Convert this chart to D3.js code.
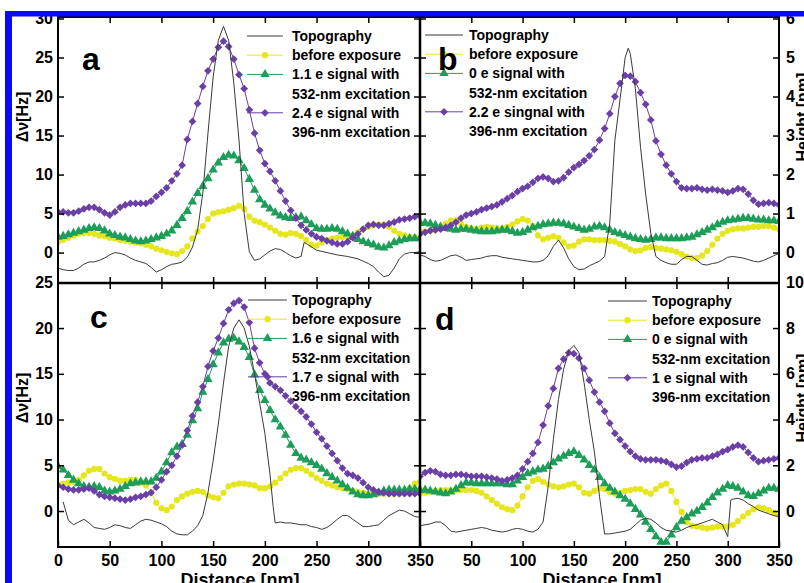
<!DOCTYPE html>
<html>
<head>
<meta charset="utf-8">
<script src="https://cdn.jsdelivr.net/npm/d3@7"></script>
<style>
  body { margin: 0; background: #fff; }
  svg { display: block; font-family: "Liberation Sans", Arial, sans-serif; font-weight: bold; }
</style>
</head>
<body>
<svg width="804" height="583"></svg>
<script>
// distance samples for the marker series (nm)
const dist = d3.range(0, 351, 5);

// ---- panel a : delta nu [Hz] ----
const yellowA = [1.4,1.6,1.9,2.2,2.4,2.5,2.5,2.4,2.2,2.1, 1.9,1.8,1.6,1.5,1.4,1.3,1.2,1.0,0.8,0.5,
  0.3,0.1,-0.1,-0.2,0.2,0.8,1.8,2.7,3.4,4.3, 5.0,5.2,5.3,5.5,5.7,6.0,5.6,4.6,4.1,3.9,
  3.6,3.2,2.8,2.4,2.3,2.5,2.4,2.1,1.6,1.0, 0.9,1.3,1.6,1.8,1.9,2.0,2.0,2.2,2.6,3.0,
  3.3,3.5,3.6,3.6,3.3,2.8,2.4,2.2,2.0,2.0, 1.9];
const greenA = [2.0,2.1,2.3,2.5,2.7,2.9,3.1,3.2,3.1,2.8, 2.4,2.2,2.0,1.9,1.7,1.5,1.4,1.5,1.7,1.9,
  2.1,2.4,2.8,3.5,4.4,5.3,6.5,7.6,8.5,9.5, 10.6,11.5,12.2,12.5,12.4,11.8,10.8,9.4,8.0,6.8,
  6.1,5.6,5.1,4.7,4.5,4.4,4.5,4.6,4.1,3.6, 3.1,3.0,3.0,3.1,3.0,2.7,2.4,2.1,1.7,1.4,
  1.2,1.0,0.7,0.6,0.9,1.3,1.5,1.7,1.8,1.8, 1.8];
const purpleA = [5.2,5.2,5.1,5.1,5.3,5.6,5.8,5.8,5.5,5.1, 4.8,5.2,5.8,6.1,6.3,6.3,6.3,6.3,6.6,7.2,
  7.7,8.3,9.2,10.1,11.2,14.5,16.8,19.1,21.3,23.3, 24.8,26.3,27.1,26.4,24.8,22.8,21.0,18.3,15.3,13.1,
  11.4,10.4,9.2,7.9,6.6,5.4,4.4,3.5,2.9,2.4, 2.0,1.8,1.5,1.3,1.1,1.1,1.4,1.9,2.4,3.0,
  3.5,3.6,3.5,3.5,3.7,3.9,4.2,4.3,4.4,4.6, 4.7];
// topography height [nm]
const topoA_x = [0,5,10,15,20,25,30,35,40,45,50,55,60,65,70,75,80,85,90,95,100,105,110,115,120,125,130,135,140,145,
  150,155,160,165,170,175,180,185,190,195,200,205,210,215,220,225,230,235,238,242,250,260,270,280,290,300,305,310,315,320,
  325,330,335,340,345,350];
const topoA_h = [-0.40,-0.44,-0.46,-0.46,-0.40,-0.30,-0.24,-0.24,-0.20,-0.14,-0.06,0.00,-0.02,-0.06,-0.14,-0.20,-0.24,-0.28,-0.38,-0.50,
  -0.44,-0.36,-0.30,-0.28,-0.24,-0.12,0.14,0.58,1.52,3.06,4.50,5.44,5.80,5.44,4.34,2.88,1.00,0.02,-0.20,-0.16,
  -0.06,0.04,0.10,0.08,0.00,-0.08,-0.14,-0.10,0.26,0.20,0.06,0.00,-0.06,-0.10,-0.16,-0.28,-0.36,-0.50,-0.62,-0.58,
  -0.40,-0.16,-0.04,0.00,0.00,0.02];

// ---- panel b ----
const yellowB = [2.7,2.7,2.8,2.9,3.3,3.7,4.1,4.1,3.7,3.3, 3.1,3.0,3.2,3.3,3.2,3.1,3.1,3.3,3.6,4.0,
  4.3,4.1,3.4,2.2,1.7,1.9,2.1,1.9,1.3,0.8, 0.9,1.4,1.7,1.7,1.6,1.6,1.6,1.5,1.4,1.1,
  0.8,0.4,0.2,0.3,0.6,0.7,0.6,0.5,0.4,0.3, 0.1,-0.2,-0.5,-0.7,-0.7,-0.4,0.2,1.0,1.8,2.4,
  2.8,3.0,3.1,3.1,3.2,3.3,3.3,3.4,3.4,3.2, 3.0];
const greenB = [3.8,3.8,3.7,3.5,3.3,3.1,3.0,2.9,3.0,3.0, 2.9,2.8,2.7,2.7,2.7,2.8,2.9,2.9,2.7,2.5,
  2.6,2.9,3.2,3.4,3.6,3.7,3.8,3.8,3.7,3.5, 3.3,3.1,2.9,3.0,3.3,3.4,3.2,2.9,2.6,2.4,
  2.2,2.0,1.8,1.7,1.6,1.7,1.9,1.9,1.8,1.8, 1.8,1.8,1.9,2.0,2.3,2.6,2.9,3.2,3.6,3.9,
  4.1,4.2,4.3,4.4,4.4,4.3,4.2,4.2,4.1,4.1, 4.0];
const purpleB = [2.4,2.6,2.8,2.9,3.0,3.2,3.5,3.9,4.4,4.8, 5.0,5.2,5.5,5.7,5.9,6.1,6.5,6.9,7.3,7.8,
  8.2,8.5,9.0,9.5,9.7,9.5,9.1,9.2,9.6,10.3, 10.9,11.3,11.8,12.4,13.2,14.4,15.9,17.8,20.0,21.7,
  22.7,22.6,21.9,20.5,19.0,17.0,14.3,12.6,11.2,10.1, 9.1,8.3,8.2,8.2,8.3,8.1,8.0,8.1,8.0,7.9,
  7.7,7.9,8.2,8.1,7.5,6.7,6.2,6.3,6.4,6.3, 6.1];
const topoB_x = [0,5,10,15,20,25,30,35,40,45,50,55,60,65,70,75,80,85,90,95,100,105,110,115,120,125,130,135,140,145,
  150,155,160,165,170,175,180,185,190,195,200,203,205,210,215,220,225,230,235,240,245,250,255,260,265,270,275,280,285,290,
  295,300,305,310,315,320,325,330,335,340,345,350];
const topoB_h = [-0.06,-0.10,-0.18,-0.22,-0.20,-0.14,-0.08,-0.06,-0.12,-0.20,-0.18,-0.16,-0.14,-0.10,-0.08,-0.08,-0.12,-0.14,-0.16,-0.18,
  -0.20,-0.22,-0.24,-0.24,-0.20,-0.08,0.16,0.32,0.12,-0.16,-0.36,-0.44,-0.42,-0.34,-0.28,-0.22,-0.10,0.76,2.88,3.92,
  5.00,5.24,5.10,4.20,2.70,1.50,0.50,-0.10,-0.20,-0.26,-0.30,-0.30,-0.18,-0.10,-0.10,-0.20,-0.30,-0.32,-0.28,-0.26,
  -0.20,-0.12,-0.10,-0.12,-0.14,-0.18,-0.22,-0.24,-0.20,-0.14,-0.08,-0.02];

// ---- panel c ----
const yellowC = [2.9,3.0,3.1,3.2,3.4,3.9,4.4,4.6,4.6,4.1, 3.7,3.5,3.3,3.3,3.4,3.4,3.1,2.8,2.0,0.9,
  0.3,0.1,0.5,1.2,1.6,1.9,2.1,2.2,2.1,1.7, 1.5,1.4,2.0,2.7,2.9,3.0,3.0,2.9,2.8,2.5,
  2.5,2.7,3.1,3.6,4.1,4.5,4.7,4.7,4.4,4.0, 3.6,3.3,3.0,2.8,2.6,2.5,2.4,2.2,2.1,2.0,
  1.9,1.9,1.9,1.9,1.9,1.9,1.9,2.1,2.5,3.0, 3.2];
const greenC = [4.9,4.5,3.9,3.4,3.0,2.7,2.6,2.7,2.6,2.2, 2.1,2.2,2.4,2.7,3.0,3.1,3.2,3.2,3.2,3.6,
  4.3,5.3,6.4,7.0,7.3,8.3,9.9,11.2,13.0,14.4, 16.0,17.3,18.4,18.8,18.9,18.5,17.9,16.8,14.9,13.2,
  12.1,11.0,10.0,9.2,8.3,7.2,6.3,5.8,5.6,5.3, 5.0,4.6,4.1,3.7,3.3,2.9,2.5,2.1,1.8,1.7,
  1.7,1.8,2.0,2.2,2.3,2.3,2.3,2.3,2.4,2.4, 2.4];
const purpleC = [2.8,2.6,2.4,2.3,2.3,2.4,2.5,2.2,1.8,1.6, 1.5,1.4,1.3,1.2,1.3,1.5,1.6,1.8,2.0,2.6,
  3.4,4.3,5.0,6.0,7.2,8.8,10.4,11.9,13.6,15.8, 17.5,18.9,20.5,22.0,22.7,23.0,22.3,20.6,17.8,16.2,
  15.0,14.0,13.6,13.2,12.6,12.0,11.4,10.9,10.3,9.5, 8.6,7.9,7.1,6.3,5.5,4.7,4.1,3.9,3.6,3.1,
  2.6,2.3,2.1,2.0,1.9,1.9,1.9,1.9,1.9,1.9, 1.9];
const topoC_x = [5,10,15,20,25,30,35,40,45,50,55,60,65,70,75,80,85,90,95,100,105,110,115,120,125,130,135,140,145,150,
  155,160,165,170,175,180,185,190,195,200,205,208,210,215,220,225,230,235,240,245,250,255,260,265,270,275,280,285,290,295,
  300,305,310,315,320,325,330,335,340,345,350];
const topoC_h = [0.40,-0.40,-0.60,-0.48,-0.36,-0.52,-0.72,-0.76,-0.80,-0.72,-0.60,-0.64,-0.72,-0.76,-0.60,-0.44,-0.36,-0.40,-0.48,-0.56,
  -0.68,-0.88,-1.00,-1.04,-1.04,-0.88,-0.64,-0.20,0.80,2.20,3.80,5.60,7.20,8.00,8.36,8.00,7.20,6.00,4.72,3.40,
  1.60,0.20,-0.52,-0.48,-0.52,-0.52,-0.56,-0.60,-0.60,-0.68,-0.72,-0.80,-0.72,-0.56,-0.36,-0.20,-0.20,-0.36,-0.52,-0.68,
  -0.68,-0.64,-0.60,-0.40,-0.20,-0.08,0.04,0.00,-0.12,-0.24,-0.28];

// ---- panel d ----
const yellowD = [1.9,2.0,2.1,2.2,2.3,2.3,2.3,2.3,2.3,2.3, 2.3,2.2,2.0,1.6,1.2,0.8,0.4,0.2,0.1,0.6,
  1.6,2.6,3.3,3.5,3.2,2.9,2.7,2.6,2.7,2.9, 3.0,2.6,2.0,1.9,2.2,2.5,2.4,2.1,1.9,2.0,
  2.2,2.3,2.4,2.4,2.1,1.9,2.4,2.8,3.0,2.2, 1.0,-0.1,-1.2,-1.6,-1.7,-1.8,-1.9,-1.8,-1.7,-1.7,
  -1.7,-1.5,-1.1,-0.6,-0.2,0.2,0.4,0.3,0.1,-0.2, -0.4];
const greenD = [2.3,2.3,2.2,2.1,2.0,1.9,2.1,2.4,2.8,3.1, 3.1,3.0,3.0,3.0,3.0,3.0,3.0,2.9,2.9,3.3,
  3.7,4.1,4.3,4.5,4.6,4.9,5.3,5.7,6.0,6.3, 6.5,6.1,5.6,5.0,4.5,3.7,3.0,2.5,2.1,1.7,
  1.3,0.8,0.2,-0.4,-1.2,-2.0,-2.8,-3.4,-3.4,-2.6, -1.8,-1.1,-0.7,-0.3,0.0,0.4,0.9,1.5,2.0,2.4,
  2.8,2.7,2.5,2.1,1.7,1.6,1.9,2.2,2.5,2.5, 2.4];
const purpleD = [3.8,4.2,4.4,4.3,4.0,3.9,3.9,4.0,4.0,3.9, 3.8,3.8,3.8,3.7,3.6,3.5,3.3,3.4,3.6,3.9,
  4.6,5.4,6.3,7.5,9.4,11.5,13.4,15.6,16.6,17.3, 17.2,16.7,15.6,14.3,13.0,11.9,10.9,9.6,8.5,7.8,
  7.1,6.5,6.0,5.7,5.6,5.6,5.6,5.5,5.4,5.1, 4.8,4.9,5.3,5.6,5.7,5.8,5.8,6.0,6.2,6.5,
  6.7,7.0,7.2,7.0,6.4,5.8,5.4,5.5,5.6,5.7, 5.8];
const topoD_x = [0,5,10,15,20,25,30,35,40,45,50,55,60,65,70,75,80,85,90,95,100,105,110,115,120,125,130,135,140,145,
  150,155,160,165,170,175,180,185,190,195,200,205,210,215,220,225,230,235,240,245,250,255,260,265,270,275,280,285,290,295,
  300,303,305,310,315,320,325,330,335,340,345,350];
const topoD_h = [-0.64,-0.60,-0.56,-0.48,-0.48,-0.64,-0.88,-0.92,-0.88,-0.84,-0.80,-0.76,-0.72,-0.76,-0.84,-0.88,-0.92,-0.88,-0.80,-0.76,
  -0.80,-0.88,-0.92,-0.80,-0.48,1.08,3.12,4.88,6.20,7.00,7.24,6.92,5.60,4.00,2.60,0.64,-1.00,-1.00,-0.96,-0.92,
  -0.88,-0.80,-0.60,-0.40,-0.32,-0.36,-0.52,-0.72,-0.84,-0.88,-0.92,-0.84,-0.72,-0.64,-0.60,-0.52,-0.44,-0.36,-0.48,-0.60,
  -1.12,0.48,0.52,0.56,0.48,0.32,0.20,0.04,-0.04,-0.12,-0.20,-0.24];

// legend texts
const legendA = ["Topography", "before exposure", "1.1 e signal with", "532-nm excitation", "2.4 e signal with", "396-nm excitation"];
const legendB = ["Topography", "before exposure", "0 e signal with", "532-nm excitation", "2.2 e singnal with", "396-nm excitation"];
const legendC = ["Topography", "before exposure", "1.6 e signal with", "532-nm excitation", "1.7 e signal with", "396-nm excitation"];
const legendD = ["Topography", "before exposure", "0 e signal with", "532-nm excitation", "1 e signal with", "396-nm excitation"];

// axis ticks
const distTicks = [0, 50, 100, 150, 200, 250, 300, 350];
const dvTicksTop = [0, 5, 10, 15, 20, 25, 30];
const dvTicksBottom = [0, 5, 10, 15, 20, 25];
const hTicksTop = [0, 1, 2, 3, 4, 5, 6];
const hTicksBottom = [0, 2, 4, 6, 8, 10];

const colors = { topo: "#3a3a3a", yellow: "#e6e61e", green: "#1c9e58", purple: "#6a3fa6" };

const svg = d3.select("svg");

const xL = 58, xM = 420, xR = 779;
const rows = [
  { top: 18.5, bottom: 283, frameTop: 17, dv: [-3.9, 30], h: [-0.78, 6], dvTicks: dvTicksTop, hTicks: hTicksTop },
  { top: 282.3, bottom: 547, frameTop: 283, dv: [-3.93, 25], h: [-1.572, 10], dvTicks: dvTicksBottom, hTicks: hTicksBottom }
];

const panels = [
  { letter: "a", lx: 82, ly: 70, col: 0, row: 0, tx: topoA_x, th: topoA_h, ye: yellowA, gr: greenA, pu: purpleA,
    legend: legendA, leg: [247, 283, 292, 36] },
  { letter: "b", lx: 438, ly: 70, col: 1, row: 0, tx: topoB_x, th: topoB_h, ye: yellowB, gr: greenB, pu: purpleB,
    legend: legendB, leg: [425, 463, 469, 35] },
  { letter: "c", lx: 90, ly: 328, col: 0, row: 1, tx: topoC_x, th: topoC_h, ye: yellowC, gr: greenC, pu: purpleC,
    legend: legendC, leg: [248, 287, 292, 300] },
  { letter: "d", lx: 435, ly: 330, col: 1, row: 1, tx: topoD_x, th: topoD_h, ye: yellowD, gr: greenD, pu: purpleD,
    legend: legendD, leg: [608, 647, 652, 301] }
];

const shapes = {
  yellow: { d: d3.symbol().type(d3.symbolCircle).size(30)(), rot: 0 },
  green: { d: d3.symbol().type(d3.symbolTriangle).size(38)(), rot: 0 },
  purple: { d: d3.symbol().type(d3.symbolSquare).size(30)(), rot: 45 }
};

function styleAxis(g) {
  g.select(".domain").remove();
  g.selectAll(".tick line").attr("stroke", "#000").attr("stroke-width", 1.5);
  g.selectAll("text").attr("font-size", 16).attr("font-family", "Liberation Sans, Arial, sans-serif")
    .attr("font-weight", "bold").attr("fill", "#000");
}

function drawMarkers(g, vals, color, shape, x, y) {
  const pts = dist.map((d, i) => [d, vals[i]]);
  g.append("path").datum(pts)
    .attr("d", d3.line().x(d => x(d[0])).y(d => y(d[1])))
    .attr("fill", "none").attr("stroke", color).attr("stroke-width", 1);
  g.selectAll(null).data(pts).join("path")
    .attr("transform", d => `translate(${x(d[0])},${y(d[1])}) rotate(${shape.rot})`)
    .attr("d", shape.d).attr("fill", color);
}

const intFmt = d3.format("d");

panels.forEach((p, k) => {
  const r = rows[p.row];
  const xr = p.col === 0 ? [xL, xM] : [xM, xR];
  const x = d3.scaleLinear().domain([0, 350]).range(xr);
  const yDv = d3.scaleLinear().domain(r.dv).range([r.bottom, r.top]);
  const yH = d3.scaleLinear().domain(r.h).range([r.bottom, r.top]);

  svg.append("clipPath").attr("id", "clip" + k).append("rect")
    .attr("x", xr[0]).attr("y", r.frameTop).attr("width", xr[1] - xr[0]).attr("height", r.bottom - r.frameTop);
  const g = svg.append("g").attr("clip-path", `url(#clip${k})`);

  drawMarkers(g, p.ye, colors.yellow, shapes.yellow, x, yDv);
  drawMarkers(g, p.gr, colors.green, shapes.green, x, yDv);
  drawMarkers(g, p.pu, colors.purple, shapes.purple, x, yDv);

  const topo = p.tx.map((d, i) => [d, p.th[i]]);
  g.append("path").datum(topo)
    .attr("d", d3.line().x(d => x(d[0])).y(d => yH(d[1])))
    .attr("fill", "none").attr("stroke", colors.topo).attr("stroke-width", 1);

  // inward ticks on all four sides
  const inner = [50, 100, 150, 200, 250, 300];
  svg.append("g").attr("transform", `translate(0,${r.frameTop})`)
    .call(d3.axisTop(x).tickValues(inner).tickSize(-6).tickFormat("")).call(styleAxis);
  const bottomLabels = p.row === 1 ? (p.col === 0 ? distTicks : distTicks.slice(1)) : inner;
  svg.append("g").attr("transform", `translate(0,${r.bottom})`)
    .call(d3.axisBottom(x).tickValues(bottomLabels).tickSize(-6).tickPadding(8)
      .tickFormat(p.row === 1 ? intFmt : ""))
    .call(styleAxis);

  if (p.col === 0) {
    svg.append("g").attr("transform", `translate(${xL},0)`)
      .call(d3.axisLeft(yDv).tickValues(r.dvTicks).tickSize(-6).tickPadding(5).tickFormat(intFmt)).call(styleAxis);
    svg.append("g").attr("transform", `translate(${xM},0)`)
      .call(d3.axisRight(yDv).tickValues(r.dvTicks).tickSize(-6).tickFormat("")).call(styleAxis);
  } else {
    svg.append("g").attr("transform", `translate(${xM},0)`)
      .call(d3.axisLeft(yH).tickValues(r.hTicks).tickSize(-6).tickFormat("")).call(styleAxis);
    svg.append("g").attr("transform", `translate(${xR},0)`)
      .call(d3.axisRight(yH).tickValues(r.hTicks).tickSize(-6).tickPadding(7).tickFormat(intFmt)).call(styleAxis);
  }

  // legend
  const [l1, l2, tx, y0] = p.leg;
  const rowY = i => y0 + 19.2 * i;
  const samples = [
    { row: 0, color: colors.topo, shape: null },
    { row: 1, color: colors.yellow, shape: shapes.yellow },
    { row: 2, color: colors.green, shape: shapes.green },
    { row: 4, color: colors.purple, shape: shapes.purple }
  ];
  samples.forEach(s => {
    svg.append("line").attr("x1", l1).attr("x2", l2).attr("y1", rowY(s.row)).attr("y2", rowY(s.row))
      .attr("stroke", s.color).attr("stroke-width", 1);
    if (s.shape) {
      svg.append("path").attr("d", s.shape.d).attr("fill", s.color)
        .attr("transform", `translate(${(l1 + l2) / 2},${rowY(s.row)}) rotate(${s.shape.rot})`);
    }
  });
  svg.append("g").selectAll("text").data(p.legend).join("text")
    .attr("x", tx).attr("y", (d, i) => rowY(i) + 5)
    .attr("font-size", 14).attr("fill", "#000").text(d => d);

  svg.append("text").attr("x", p.lx).attr("y", p.ly).attr("font-size", 32).attr("fill", "#000").text(p.letter);
});

// panel frame
svg.append("rect").attr("x", xL).attr("y", 17).attr("width", xR - xL).attr("height", 547 - 17)
  .attr("fill", "none").attr("stroke", "#000").attr("stroke-width", 2);
svg.append("line").attr("x1", xM).attr("x2", xM).attr("y1", 17).attr("y2", 547).attr("stroke", "#000").attr("stroke-width", 2.5);
svg.append("line").attr("x1", xL).attr("x2", xR).attr("y1", 283).attr("y2", 283).attr("stroke", "#000").attr("stroke-width", 2.5);

// axis titles (the right ones run off the edge, as in the original figure)
[117, 398].forEach(cy => {
  svg.append("text").attr("transform", `translate(28,${cy}) rotate(-90)`)
    .attr("text-anchor", "middle").attr("font-size", 16).text("Δν[Hz]");
  svg.append("text").attr("transform", `translate(808,${cy}) rotate(-90)`)
    .attr("text-anchor", "middle").attr("font-size", 16).text("Height [nm]");
});
[240, 602].forEach(cx => {
  svg.append("text").attr("x", cx).attr("y", 586).attr("text-anchor", "middle")
    .attr("font-size", 18).text("Distance [nm]");
});

// blue frame of the original figure
svg.append("rect").attr("x", 5).attr("y", 11).attr("width", 799).attr("height", 5.5).attr("fill", "#0a0af5");
svg.append("rect").attr("x", 5).attr("y", 11).attr("width", 7).attr("height", 572).attr("fill", "#0a0af5");
</script>
</body>
</html>
